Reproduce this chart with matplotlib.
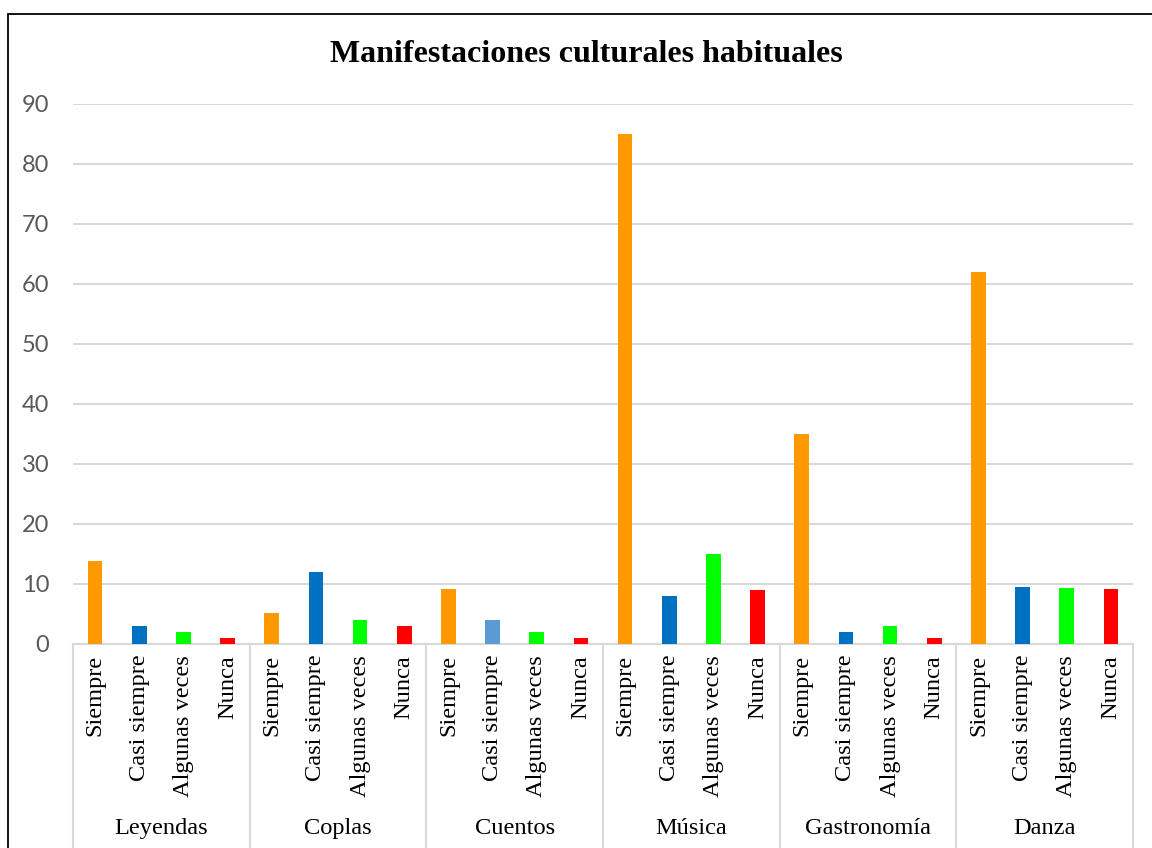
import matplotlib
matplotlib.use("Agg")
import matplotlib.pyplot as plt
from matplotlib.patches import Rectangle
import numpy as np

groups = ['Leyendas', 'Coplas', 'Cuentos', 'Música', 'Gastronomía', 'Danza']
responses = ['Siempre', 'Casi siempre', 'Algunas veces', 'Nunca']
siempre = [13.8, 5.2, 9.1, 85, 35, 62]
casi_siempre = [3, 12, 4, 8, 2, 9.5]
algunas_veces = [2, 4, 2, 15, 3, 9.3]
nunca = [1, 3, 1, 9, 1, 9.2]

colors = ['#FF9900', '#0070C0', '#00FF00', '#FF0000']
light_blue = '#5B9BD5'

W, H = 1152, 848
fig = plt.figure(figsize=(W / 100, H / 100), dpi=100)
ax = fig.add_axes([73 / W, 1 - 644 / H, (1133 - 73) / W, (644 - 104) / H])

# outer chart border (cut off at right and bottom like the original)
fig.patches.append(Rectangle((8 / W, -0.1), 1.2, 1 - 14 / H + 0.1,
                             transform=fig.transFigure, fill=False,
                             edgecolor='black', linewidth=1.3))

series = [siempre, casi_siempre, algunas_veces, nunca]
n = len(responses)
for k, vals in enumerate(series):
    x = np.arange(len(groups)) * n + k
    cols = [colors[k]] * len(groups)
    if k == 1:
        cols[2] = light_blue
    ax.bar(x, vals, width=0.33, color=cols, zorder=3)

ax.set_xlim(-0.5, len(groups) * n - 0.5)
ax.set_ylim(0, 90)
ax.set_yticks(range(0, 91, 10))
ax.yaxis.grid(True, color='#D9D9D9', linewidth=1.5, zorder=0)
ax.set_axisbelow(True)
for s in ['top', 'right', 'left']:
    ax.spines[s].set_visible(False)
ax.spines['bottom'].set_color('#D9D9D9')
ax.spines['bottom'].set_linewidth(1.5)
ax.tick_params(axis='y', length=0, pad=17, labelsize=17, labelcolor='#595959')
for lab in ax.get_yticklabels():
    lab.set_fontfamily(['Lato', 'DejaVu Sans'])
ax.set_xticks([])

trans = ax.get_xaxis_transform()
for g, name in enumerate(groups):
    for k, r in enumerate(responses):
        ax.text(g * n + k, -0.02, r, rotation=90, ha='center', va='top',
                fontsize=17.6, family='Liberation Serif', transform=trans)
    ax.text(g * n + (n - 1) / 2, -0.341, name, ha='center', va='center',
            fontsize=17.6, family='Liberation Serif', transform=trans)
for b in range(len(groups) + 1):
    ax.plot([b * n - 0.5, b * n - 0.5], [0, -0.40], color='#D9D9D9',
            linewidth=1.5, transform=trans, clip_on=False)

fig.text(586 / W, 1 - 55 / H, 'Manifestaciones culturales habituales',
         ha='center', va='center', fontsize=23, fontweight='bold',
         family='Liberation Serif')

fig.savefig('out.png', dpi=100)
